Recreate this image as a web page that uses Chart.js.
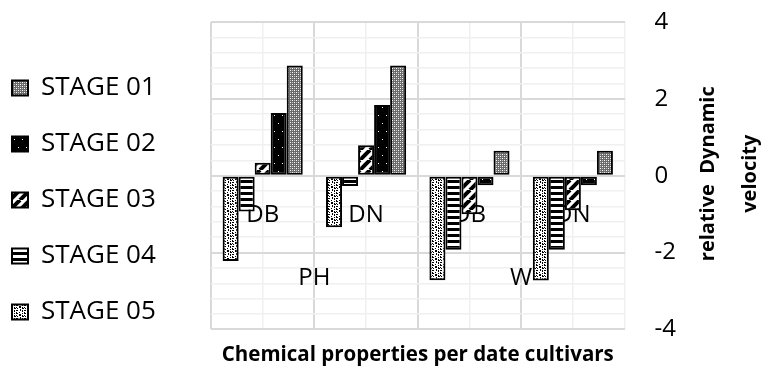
<!DOCTYPE html>
<html>
<head>
<meta charset="utf-8">
<style>
  html, body { margin: 0; padding: 0; background: #fff; }
  #wrap { width: 762px; height: 371px; }
</style>
<script src="https://cdn.jsdelivr.net/npm/chart.js@4/dist/chart.umd.min.js"></script>
</head>
<body>
<div id="wrap"><canvas id="chart" width="762" height="371"></canvas></div>
<script>
// data
const categories = ['DB', 'DN', 'DB', 'DN'];
const groups = ['PH', 'W'];
const stage01 = [2.87, 2.87, 0.65, 0.65];
const stage02 = [1.63, 1.84, -0.25, -0.25];
const stage03 = [0.34, 0.79, -1.0, -0.9];
const stage04 = [-0.93, -0.27, -1.93, -1.93];
const stage05 = [-2.22, -1.34, -2.72, -2.73];
const yTicks = [-4, -2, 0, 2, 4];

const FONT = "'Open Sans', sans-serif";
const CLEAR = 'rgba(0,0,0,0)';

// little tiles for the Excel-like fill patterns
function makePattern(w, h, draw) {
  const c = document.createElement('canvas');
  c.width = w; c.height = h;
  const g = c.getContext('2d');
  draw(g);
  return g.createPattern(c, 'repeat');
}

function bitmap(rows) {
  return (g) => {
    g.fillStyle = '#fff';
    g.fillRect(0, 0, rows[0].length, rows.length);
    g.fillStyle = '#000';
    rows.forEach((r, y) => {
      for (let x = 0; x < r.length; x++) if (r[x] === '#') g.fillRect(x, y, 1, 1);
    });
  };
}

const pat01 = makePattern(4, 4, (g) => {
  g.fillStyle = '#6a6a6a'; g.fillRect(0, 0, 4, 4);
  g.fillStyle = '#fff'; g.fillRect(0, 0, 1, 1); g.fillRect(2, 2, 1, 1);
  g.fillStyle = '#c0c0c0'; g.fillRect(2, 0, 1, 1); g.fillRect(0, 2, 1, 1);
});
const pat02 = makePattern(8, 16, (g) => {
  g.fillStyle = '#000'; g.fillRect(0, 0, 8, 16);
  g.fillStyle = '#fff'; g.fillRect(2, 3, 1, 1); g.fillRect(6, 11, 1, 1);
});
const pat03 = makePattern(10, 10, (g) => {
  g.fillStyle = '#fff'; g.fillRect(0, 0, 10, 10);
  g.strokeStyle = '#000'; g.lineWidth = 4;
  for (const x0 of [-10, 0, 10]) {
    g.beginPath(); g.moveTo(x0, 10); g.lineTo(x0 + 10, 0); g.stroke();
  }
});
const pat04 = makePattern(4, 6, (g) => {
  g.fillStyle = '#fff'; g.fillRect(0, 0, 4, 6);
  g.fillStyle = '#000'; g.fillRect(0, 0, 4, 3);
});
const pat05 = makePattern(8, 8, bitmap([
  '#..#....',
  '##....#.',
  '...##...',
  '#..##.#.',
  '.#....##',
  '....#...',
  '##..#.#.',
  '......#.'
]));

function stage(label, data, fill) {
  return {
    label: label,
    data: data,
    backgroundColor: fill,
    borderColor: '#000',
    borderWidth: 2,
    borderSkipped: false,
    xAxisID: 'x',
    yAxisID: 'y',
    categoryPercentage: 0.775,
    barPercentage: 1.0
  };
}

// legend gets a fixed width so the plot starts where the reference does
const legendWidth = {
  id: 'legendWidth',
  beforeInit(chart) {
    const fit = chart.legend.fit;
    chart.legend.fit = function () {
      fit.call(this);
      this.width = 229;
    };
  }
};

// rotated right-hand title, reads bottom to top
const sideTitle = {
  id: 'sideTitle',
  afterDraw(chart) {
    const { ctx, chartArea } = chart;
    const ys = chart.scales.y;
    const cy = (chartArea.top + chartArea.bottom) / 2 - 2;
    ctx.save();
    ctx.translate(ys.right, cy);
    ctx.rotate(-Math.PI / 2);
    ctx.fillStyle = '#000';
    ctx.font = "bold 20px " + FONT;
    ctx.textAlign = 'center';
    ctx.textBaseline = 'middle';
    ctx.fillText('relative  Dynamic', 0, 32);
    ctx.fillText('velocity', 0, 74);
    ctx.restore();
  }
};

new Chart(document.getElementById('chart'), {
  type: 'bar',
  data: {
    labels: categories,
    datasets: [
      stage('STAGE 05', stage05, pat05),
      stage('STAGE 04', stage04, pat04),
      stage('STAGE 03', stage03, pat03),
      stage('STAGE 02', stage02, pat02),
      stage('STAGE 01', stage01, pat01)
    ]
  },
  options: {
    responsive: false,
    animation: false,
    devicePixelRatio: 1,
    layout: { padding: { left: -18, right: 86, top: 22, bottom: 0 } },
    plugins: {
      tooltip: { enabled: false },
      legend: {
        position: 'left',
        reverse: true,
        title: { display: true, text: '', font: { size: 7, lineHeight: 1 }, padding: 0 },
        labels: {
          color: '#000',
          font: { family: FONT, size: 26 },
          boxWidth: 16,
          boxHeight: 15,
          padding: 30
        }
      }
    },
    scales: {
      x: {
        axis: 'x',
        type: 'category',
        position: { y: 0 },
        offset: true,
        grid: { display: true, color: CLEAR, drawTicks: true, tickLength: 25, tickColor: CLEAR },
        border: { display: false },
        ticks: { color: '#000', font: { family: FONT, size: 24 }, padding: 0, maxRotation: 0, autoSkip: false }
      },
      xg: {
        axis: 'x',
        type: 'category',
        labels: groups,
        position: { y: 0 },
        offset: true,
        grid: { display: true, color: CLEAR, drawTicks: true, tickLength: 88, tickColor: CLEAR },
        border: { display: false },
        ticks: { color: '#000', font: { family: FONT, size: 24 }, padding: 0, maxRotation: 0, autoSkip: false }
      },
      xgrid: {
        axis: 'x',
        type: 'category',
        labels: categories.flatMap(() => ['', '']),
        position: 'bottom',
        offset: true,
        grid: {
          offset: true,
          drawTicks: false,
          color: (c) => (c.index % 2 === 0 ? '#d9d9d9' : '#f0f0f0'),
          lineWidth: (c) => (c.index % 2 === 0 ? 2 : 1.5)
        },
        border: { display: false },
        ticks: { display: false },
        title: {
          display: true,
          text: 'Chemical properties per date cultivars',
          color: '#000',
          font: { family: FONT, size: 20.5, weight: 'bold' },
          padding: { top: 13, bottom: 4 }
        }
      },
      y: {
        position: 'right',
        min: yTicks[0],
        max: yTicks[yTicks.length - 1],
        grid: {
          drawTicks: true,
          tickLength: 30,
          tickColor: CLEAR,
          color: (c) => (yTicks.includes(Math.round(c.tick.value * 10) / 10) ? '#d9d9d9' : '#f0f0f0'),
          lineWidth: (c) => (yTicks.includes(Math.round(c.tick.value * 10) / 10) ? 2 : 1.5)
        },
        border: { display: false },
        ticks: {
          stepSize: 0.4,
          autoSkip: false,
          padding: 0,
          color: '#000',
          font: { family: FONT, size: 24 },
          callback: (v) => {
            const r = Math.round(v * 10) / 10;
            return yTicks.includes(r) ? String(r) : '';
          }
        }
      }
    }
  },
  plugins: [legendWidth, sideTitle]
});
</script>
</body>
</html>
